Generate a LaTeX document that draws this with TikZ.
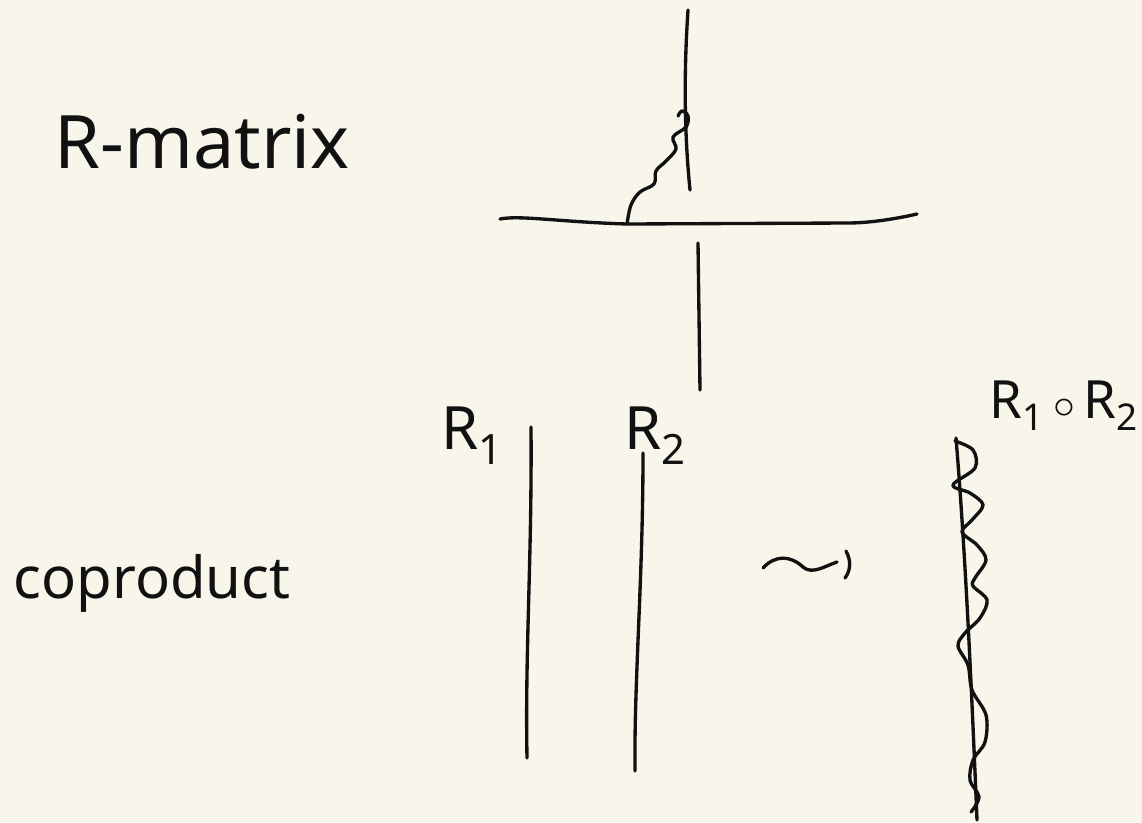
\documentclass[tikz,border=0pt]{standalone}
\usepackage{fontspec}
\setmainfont{Noto Sans}
\definecolor{paper}{HTML}{F8F6EA}
\definecolor{ink}{HTML}{111111}
\tikzset{
  strand/.style={draw=ink, line width=1.9pt, line cap=round, line join=round},
  label/.style={text=ink, inner sep=0pt},
}
\begin{document}
\begin{tikzpicture}[x=0.02cm, y=-0.02cm]
  \fill[paper] (0,0) rectangle (1142,822);
  \useasboundingbox (0,0) rectangle (1142,822);

  % titles
  \node[label, font=\fontsize{42}{48}\selectfont] (rmat) at (202,142) {R-matrix};
  \node[label, font=\fontsize{33}{39}\selectfont] (coprod) at (152,583) {coproduct};

  % R-matrix picture
  \coordinate (vt1) at (688,10);
  \coordinate (vt2) at (690,190);
  \coordinate (hl) at (500,219);
  \coordinate (hr) at (917,214);
  \coordinate (cross) at (627,224);
  \coordinate (vb1) at (698,243);
  \coordinate (vb2) at (700,390);
  \draw[strand] (vt1) .. controls (684,70) and (684,130) .. (vt2);
  \draw[strand] (hl) .. controls (520,215) and (560,222) .. (cross)
     -- (847,223) .. controls (870,223) and (895,219) .. (hr);
  \draw[strand] plot[smooth, tension=0.6] coordinates {(627,224) (631,205) (640,192) (654,184) (656,171) (666,161) (676,149) (673,137) (686,127) (688,116) (682,111) (678,116)};
  \draw[strand] (vb1) -- (vb2);

  % coproduct picture
  \node[label, font=\fontsize{34}{40}\selectfont] (r1) at (472,436) {R\textsubscript{1}};
  \node[label, font=\fontsize{34}{40}\selectfont] (r2) at (655,436) {R\textsubscript{2}};
  \coordinate (a1) at (531,427);
  \coordinate (a2) at (527,758);
  \coordinate (b1) at (643,453);
  \coordinate (b2) at (635,771);
  \draw[strand] (a1) .. controls (532,560) and (525,650) .. (a2);
  \draw[strand] (b1) .. controls (643,580) and (634,680) .. (b2);

  % squiggle arrow
  \coordinate (s1) at (763,568);
  \coordinate (s2) at (837,562);
  \draw[strand] (s1) .. controls (775,555) and (790,555) .. (803,567)
     .. controls (812,575) and (825,566) .. (s2);
  \draw[strand] (846,551) .. controls (851,560) and (851,570) .. (845,578);

  % composite
  \node[label, font=\fontsize{30}{36}\selectfont] (r12) at (1064,406) {R\textsubscript{1}\,$\circ$\,R\textsubscript{2}};
  \coordinate (c1) at (956,438);
  \coordinate (c2) at (977,820);
  \draw[strand] (c1) .. controls (966,560) and (972,700) .. (c2);
  \draw[strand] plot[smooth, tension=0.55] coordinates {(955,441) (973,450) (975,468) (953,485) (970,493) (983,505) (972,520) (962,532) (977,545) (986,560) (975,578) (973,586) (987,600) (980,618) (965,633) (958,646) (968,665) (972,690) (986,715) (985,742) (973,760) (970,780) (979,797) (971,812)};
\end{tikzpicture}
\end{document}
